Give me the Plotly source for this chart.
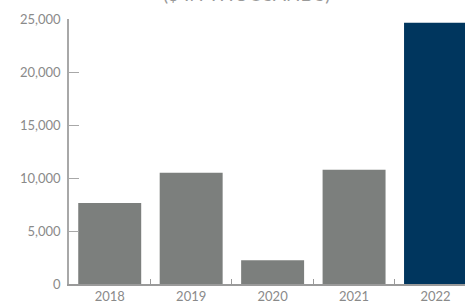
import plotly.graph_objects as go

years = ["2018", "2019", "2020", "2021", "2022"]
values = [7650, 10500, 2250, 10770, 24650]
colors = ["#7c7f7d", "#7c7f7d", "#7c7f7d", "#7c7f7d", "#00365e"]
y_ticks = [0, 5000, 10000, 15000, 20000, 25000]
title_text = "($ IN THOUSANDS)"

fig = go.Figure(go.Bar(x=years, y=values, marker=dict(color=colors, line=dict(width=0)),
                       width=0.773, hoverinfo="skip"))

fig.update_layout(
    width=465, height=304,
    margin=dict(l=69, r=0, t=19, b=18),
    plot_bgcolor="white", paper_bgcolor="white",
    showlegend=False,
    font=dict(family="Lato, Open Sans, sans-serif", color="#8a8a8a", size=13),
    annotations=[dict(text=title_text, xref="paper", yref="paper", x=0.449, y=1.046,
                      xanchor="center", yanchor="bottom", showarrow=False,
                      font=dict(size=19, color="#9a9a9a", family="Lato, sans-serif"))],
)
fig.update_xaxes(
    type="category", range=[-0.5, 4.362],
    showline=True, linecolor="#9a9a9a", linewidth=1.5,
    ticks="inside", tickson="boundaries", ticklen=5, tickcolor="#9a9a9a", tickwidth=1,
    showgrid=False, zeroline=False,
)
fig.update_yaxes(
    range=[0, 25000], tickvals=y_ticks, tickformat=",d",
    showline=True, linecolor="#a8a8a8", linewidth=1.5,
    ticks="inside", ticklen=10, tickcolor="#a8a8a8", tickwidth=1,
    showgrid=False, zeroline=False, ticklabelstandoff=4,
)

fig.write_html("out.html", config={"displayModeBar": False},
               post_script="document.body.style.margin='0';document.body.style.overflow='hidden';")
